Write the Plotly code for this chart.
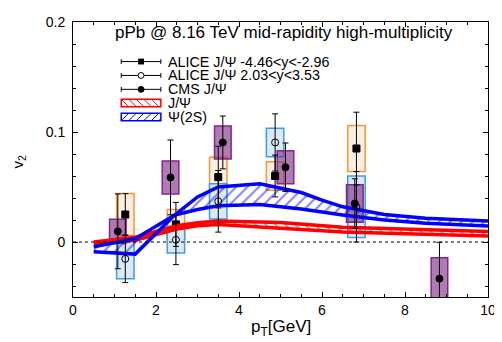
import plotly.graph_objects as go

# ---------------- data ----------------
cms_pt = [1.08, 2.35, 3.61, 5.12, 6.79, 8.83]
cms_v2 = [0.0097, 0.0587, 0.0905, 0.068, 0.035, -0.0333]
cms_stat = [0.034, 0.034, 0.024, 0.022, 0.0225, 0.033]
cms_sys = [0.011, 0.015, 0.015, 0.015, 0.017, 0.019]

alice_fwd_pt = [1.26, 2.48, 3.50, 4.87, 6.83]
alice_fwd_v2 = [0.025, 0.016, 0.059, 0.060, 0.085]
alice_fwd_stat = [0.019, 0.020, 0.028, 0.019, 0.033]
alice_fwd_sys = [0.019, 0.0135, 0.018, 0.013, 0.021]

alice_bwd_pt = [1.26, 2.48, 3.50, 4.87, 6.83]
alice_bwd_v2 = [-0.0153, 0.002, 0.037, 0.0905, 0.032]
alice_bwd_stat = [0.0216, 0.0226, 0.028, 0.026, 0.032]
alice_bwd_sys = [0.018, 0.012, 0.016, 0.013, 0.028]

jpsi_pt = [0.5, 1.5, 2.5, 3.0, 3.5, 4.5, 5.0, 6.5, 10.0]
jpsi_hi = [0.0, 0.0044, 0.0147, 0.0175, 0.019, 0.0183, 0.0177, 0.0135, 0.0095]
jpsi_lo = [-0.0018, 0.0015, 0.0118, 0.0147, 0.016, 0.0135, 0.0125, 0.0092, 0.0055]

psi2s_pt = [0.5, 1.5, 2.45, 3.0, 3.5, 4.5, 5.5, 6.0, 6.5, 7.5, 8.5, 10.0]
psi2s_a = [-0.0044, 0.003, 0.0245, 0.041, 0.050, 0.053, 0.045, 0.038, 0.032, 0.025, 0.0215, 0.019]
psi2s_b = [-0.0088, -0.011, 0.0245, 0.0295, 0.033, 0.034, 0.030, 0.027, 0.0245, 0.020, 0.017, 0.0145]

title_text = "pPb @ 8.16 TeV mid-rapidity high-multiplicity"
legend_labels = ["ALICE J/Ψ -4.46<y<-2.96", "ALICE J/Ψ 2.03<y<3.53", "CMS J/Ψ", "J/Ψ", "Ψ(2S)"]

FONT = "Liberation Sans, Arial, sans-serif"

fig = go.Figure()

# ---------------- systematic boxes ----------------
def boxes(pt, v, s, width, fill, line):
    fig.add_trace(go.Bar(
        x=pt, y=[2 * e for e in s], base=[a - e for a, e in zip(v, s)],
        width=width, marker=dict(color=fill, line=dict(color=line, width=1.5)),
        showlegend=False, hoverinfo="skip"))

boxes(alice_fwd_pt, alice_fwd_v2, alice_fwd_sys, 0.42, "rgba(253,236,220,0.85)", "rgb(245,150,60)")
boxes(alice_bwd_pt, alice_bwd_v2, alice_bwd_sys, 0.42, "rgba(215,232,250,0.9)", "rgb(60,155,240)")
boxes(cms_pt, cms_v2, cms_sys, 0.40, "rgba(128,40,135,0.62)", "rgb(128,40,135)")

# ---------------- data points ----------------
def points(pt, v, st, symbol):
    fig.add_trace(go.Scatter(
        x=pt, y=v, mode="markers",
        marker=dict(symbol=symbol, size=7, color="black", line=dict(color="black", width=1)),
        error_y=dict(type="data", array=st, visible=True, color="black", thickness=1, width=3),
        showlegend=False))

# ALICE forward points sit beneath the model curves in the reference
points(alice_fwd_pt, alice_fwd_v2, alice_fwd_stat, "square")

# ---------------- model bands ----------------
fig.add_trace(go.Scatter(x=jpsi_pt, y=jpsi_lo, mode="lines",
                         line=dict(color="rgb(255,0,0)", width=3.5), showlegend=False))
fig.add_trace(go.Scatter(x=jpsi_pt, y=jpsi_hi, mode="lines", fill="tonexty",
                         fillcolor="rgba(255,255,255,0)",
                         fillpattern=dict(shape="\\", fgcolor="rgb(255,0,0)",
                                          bgcolor="rgba(255,255,255,0)", size=7, solidity=0.3),
                         line=dict(color="rgb(255,0,0)", width=3.5), showlegend=False))

fig.add_trace(go.Scatter(x=psi2s_pt, y=psi2s_b, mode="lines",
                         line=dict(color="rgb(0,0,255)", width=3.5), showlegend=False))
fig.add_trace(go.Scatter(x=psi2s_pt, y=psi2s_a, mode="lines", fill="tonexty",
                         fillcolor="rgba(255,255,255,0)",
                         fillpattern=dict(shape="/", fgcolor="rgb(0,0,255)",
                                          bgcolor="rgba(255,255,255,0)", size=8, solidity=0.24),
                         line=dict(color="rgb(0,0,255)", width=3.5), showlegend=False))

points(alice_bwd_pt, alice_bwd_v2, alice_bwd_stat, "circle-open")
points(cms_pt, cms_v2, cms_stat, "circle")

# ---------------- layout ----------------
# page offset of the figure (default body margin of the html page)
OFF = 8
# plot area in page pixels
PL, PR, PT, PB = 73, 492, 14, 297
W, H = 502 - OFF, 342 - OFF
PW, PH = PR - PL, PB - PT

def px(x):
    return (x - PL) / PW

def py(y):
    return (PB - y) / PH

shapes = [dict(type="line", xref="x", yref="y", x0=0, x1=10, y0=0, y1=0,
               line=dict(color="black", width=1, dash="3px,3px"), layer="above")]
annotations = []

# manual legend
sx0, sx1 = 121.7, 161.7
rows = [54.7, 69.0, 83.3, 97.3, 111.7]
for i in range(3):
    yc = rows[i]
    shapes.append(dict(type="line", xref="paper", yref="paper", x0=px(sx0), x1=px(sx1),
                       y0=py(yc), y1=py(yc), line=dict(color="black", width=1)))
    for xe in (sx0, sx1):
        shapes.append(dict(type="line", xref="paper", yref="paper", x0=px(xe), x1=px(xe),
                           y0=py(yc - 2.5), y1=py(yc + 2.5), line=dict(color="black", width=1)))
xc = (sx0 + sx1) / 2
r = 3
shapes.append(dict(type="rect", xref="paper", yref="paper", x0=px(xc - r), x1=px(xc + r),
                   y0=py(rows[0] - r), y1=py(rows[0] + r), fillcolor="black", line=dict(width=0)))
shapes.append(dict(type="circle", xref="paper", yref="paper", x0=px(xc - r), x1=px(xc + r),
                   y0=py(rows[1] - r), y1=py(rows[1] + r), fillcolor="white",
                   line=dict(color="black", width=1)))
shapes.append(dict(type="circle", xref="paper", yref="paper", x0=px(xc - r), x1=px(xc + r),
                   y0=py(rows[2] - r), y1=py(rows[2] + r), fillcolor="black",
                   line=dict(color="black", width=1)))

for idx, col, back in ((3, "rgb(255,0,0)", True), (4, "rgb(0,0,255)", False)):
    yc = rows[idx]
    top, bot = yc - 3.8, yc + 3.8
    shapes.append(dict(type="rect", xref="paper", yref="paper", x0=px(sx0), x1=px(sx1),
                       y0=py(bot), y1=py(top), line=dict(color=col, width=1.5),
                       fillcolor="white"))
    step = 7.6
    k = 0
    while sx0 + k * step < sx1 - 1:
        xa = sx0 + k * step
        xb = min(xa + 7.6, sx1)
        if back:
            shapes.append(dict(type="line", xref="paper", yref="paper", x0=px(xa), x1=px(xb),
                               y0=py(top), y1=py(top + (xb - xa)), line=dict(color=col, width=1)))
        else:
            shapes.append(dict(type="line", xref="paper", yref="paper", x0=px(xa), x1=px(xb),
                               y0=py(bot), y1=py(bot - (xb - xa)), line=dict(color=col, width=1)))
        k += 1

for i, lab in enumerate(legend_labels):
    annotations.append(dict(xref="paper", yref="paper", x=px(167), y=py(rows[i]),
                            text=lab, showarrow=False, xanchor="left", yanchor="middle",
                            font=dict(family=FONT, size=14.3, color="black")))

annotations.append(dict(xref="paper", yref="paper", x=px(286), y=py(25), text=title_text,
                        showarrow=False, xanchor="center", yanchor="middle",
                        font=dict(family=FONT, size=17, color="black")))
annotations.append(dict(xref="paper", yref="paper", x=px(283), y=py(329),
                        text="p<sub>T</sub>[GeV]", showarrow=False, xanchor="center",
                        yanchor="middle", font=dict(family=FONT, size=17, color="black")))
annotations.append(dict(xref="paper", yref="paper", x=px(18), y=py(158),
                        text="v<sub>2</sub>", showarrow=False, xanchor="center",
                        yanchor="middle", textangle=-90,
                        font=dict(family=FONT, size=15, color="black")))

axis_common = dict(showline=True, linecolor="black", linewidth=1, mirror="allticks",
                   ticks="inside", ticklen=5, tickcolor="black", tickwidth=1,
                   showgrid=False, zeroline=False, ticklabeloverflow="allow",
                   tickfont=dict(family=FONT, size=14, color="black"))

fig.update_layout(
    width=W, height=H,
    margin=dict(l=PL - OFF, r=W - (PR - OFF), t=PT - OFF, b=H - (PB - OFF), pad=0),
    plot_bgcolor="white", paper_bgcolor="white",
    barmode="overlay", showlegend=False,
    xaxis=dict(range=[0, 10], dtick=2, tick0=0,
               minor=dict(dtick=0.5, tick0=0, ticks="inside", ticklen=3, tickcolor="black", showgrid=False),
               **axis_common),
    yaxis=dict(range=[-0.05, 0.2], dtick=0.1, tick0=0,
               minor=dict(dtick=0.02, tick0=0, ticks="inside", ticklen=3, tickcolor="black", showgrid=False),
               ticklabelstandoff=4,
               **axis_common),
    shapes=shapes, annotations=annotations,
)

fig.write_html("out.html")
